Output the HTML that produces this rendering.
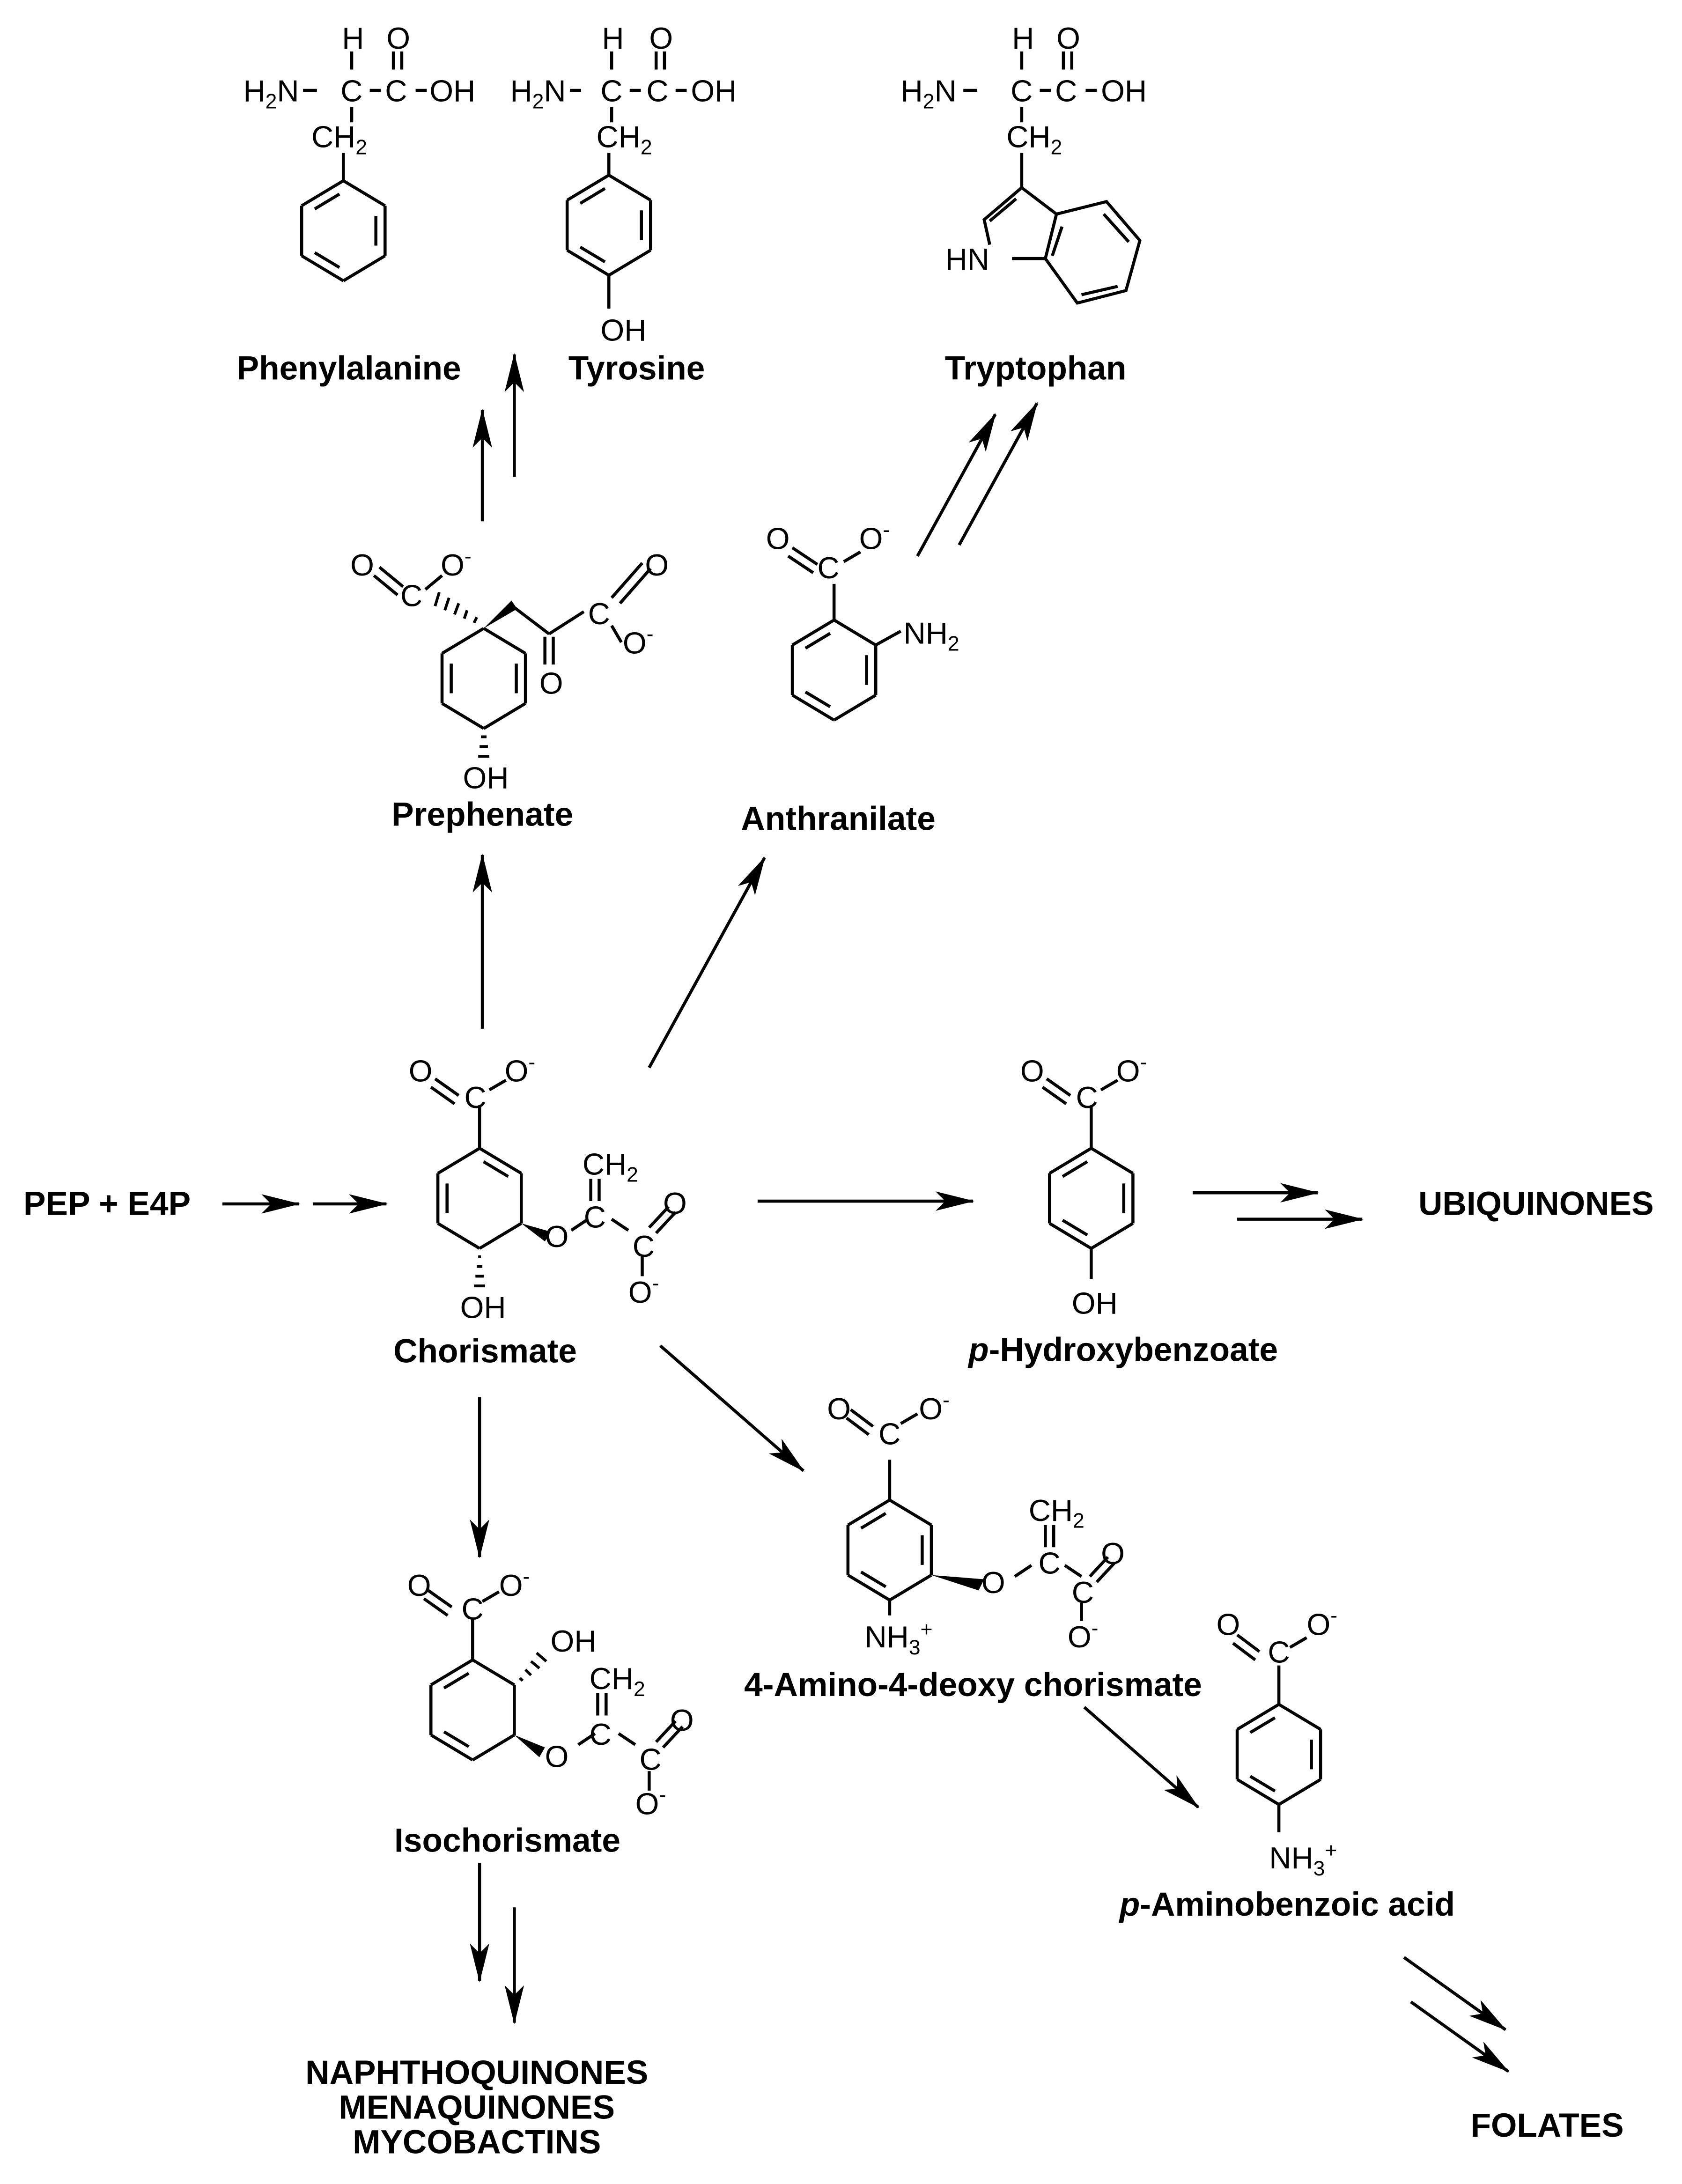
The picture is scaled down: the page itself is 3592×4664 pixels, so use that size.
<!DOCTYPE html>
<html><head><meta charset="utf-8"><style>
html,body{margin:0;padding:0;background:#fff}
svg{display:block}
text{font-family:"Liberation Sans",Arial,sans-serif;fill:#000}
.a{font-size:22px}
.s{font-size:15px}
.b{font-size:24px;font-weight:bold;text-anchor:middle}
</style></head><body>
<svg id="g" width="3592" height="4664" viewBox="0 0 1210 1571" preserveAspectRatio="none" xmlns="http://www.w3.org/2000/svg">
<defs><marker id="ar" viewBox="0 0 28 14" refX="27" refY="7" markerWidth="28" markerHeight="14" markerUnits="userSpaceOnUse" orient="auto"><path d="M0,0 L28,7 L0,14 L7,7 Z" fill="#000"/></marker></defs>
<g id="L" stroke="#000" stroke-width="2.2" fill="none" stroke-linecap="butt">
<line x1="347" y1="375" x2="347" y2="295" marker-end="url(#ar)"/>
<line x1="370" y1="343" x2="370" y2="255" marker-end="url(#ar)"/>
<line x1="660" y1="400" x2="716" y2="298" marker-end="url(#ar)"/>
<line x1="690" y1="392" x2="746" y2="290" marker-end="url(#ar)"/>
<line x1="347" y1="740" x2="347" y2="615" marker-end="url(#ar)"/>
<line x1="467" y1="768" x2="550" y2="617" marker-end="url(#ar)"/>
<line x1="160" y1="866" x2="215" y2="866" marker-end="url(#ar)"/>
<line x1="225" y1="866" x2="278" y2="866" marker-end="url(#ar)"/>
<line x1="545" y1="864" x2="700" y2="864" marker-end="url(#ar)"/>
<line x1="858" y1="858" x2="948" y2="858" marker-end="url(#ar)"/>
<line x1="890" y1="877" x2="980" y2="877" marker-end="url(#ar)"/>
<line x1="475" y1="968" x2="578" y2="1058" marker-end="url(#ar)"/>
<line x1="345" y1="1005" x2="345" y2="1120" marker-end="url(#ar)"/>
<line x1="345" y1="1340" x2="345" y2="1425" marker-end="url(#ar)"/>
<line x1="370" y1="1372" x2="370" y2="1455" marker-end="url(#ar)"/>
<line x1="780" y1="1228" x2="862" y2="1300" marker-end="url(#ar)"/>
<line x1="1010" y1="1408" x2="1083" y2="1460" marker-end="url(#ar)"/>
<line x1="1015" y1="1440" x2="1085" y2="1490" marker-end="url(#ar)"/>

<line x1="253" y1="37" x2="253" y2="50"/><line x1="283" y1="37" x2="283" y2="50"/><line x1="289" y1="37" x2="289" y2="50"/>
<line x1="218" y1="65" x2="228" y2="65"/><line x1="266" y1="65" x2="274" y2="65"/><line x1="299" y1="65" x2="307" y2="65"/>
<line x1="253" y1="77" x2="253" y2="88"/><line x1="247" y1="110" x2="247" y2="130"/>
<line x1="440" y1="37" x2="440" y2="50"/><line x1="472" y1="37" x2="472" y2="50"/><line x1="478" y1="37" x2="478" y2="50"/>
<line x1="410" y1="65" x2="418" y2="65"/><line x1="453" y1="65" x2="461" y2="65"/><line x1="486" y1="65" x2="494" y2="65"/>
<line x1="440" y1="77" x2="440" y2="88"/><line x1="438" y1="110" x2="438" y2="126"/><line x1="438" y1="198" x2="438" y2="222"/>
<line x1="735" y1="37" x2="735" y2="50"/><line x1="765" y1="37" x2="765" y2="50"/><line x1="771" y1="37" x2="771" y2="50"/>
<line x1="693" y1="65" x2="703" y2="65"/><line x1="748" y1="65" x2="756" y2="65"/><line x1="781" y1="65" x2="789" y2="65"/>
<line x1="735" y1="77" x2="735" y2="88"/><line x1="735" y1="110" x2="735" y2="135"/>
<polyline points="735,135 708,158 712,176"/><line x1="731" y1="143" x2="712" y2="159"/>
<line x1="728" y1="186" x2="752" y2="186"/>
<polyline points="735,135 760,154 796,145 820,173 810,209 775,218 752,186 760,154"/>
<line x1="764" y1="163" x2="757" y2="184"/><line x1="794" y1="154" x2="812" y2="174"/><line x1="804" y1="206" x2="778" y2="212"/>

<line x1="269" y1="414" x2="286" y2="428"/><line x1="273" y1="408" x2="290" y2="422"/>
<line x1="306" y1="424" x2="318" y2="414"/>
<line x1="370" y1="437" x2="395" y2="456"/><line x1="395" y1="456" x2="420" y2="440"/>
<line x1="392" y1="458" x2="392" y2="478"/><line x1="398" y1="458" x2="398" y2="478"/>
<line x1="440" y1="430" x2="462" y2="405"/><line x1="446" y1="434" x2="468" y2="409"/>
<line x1="440" y1="450" x2="447" y2="462"/>
<line x1="600" y1="446" x2="600" y2="420"/>
<line x1="570" y1="394" x2="588" y2="406"/><line x1="567" y1="400" x2="585" y2="412"/>
<line x1="607" y1="404" x2="619" y2="397"/>
<line x1="630" y1="464" x2="648" y2="454"/>
<line x1="345" y1="826" x2="345" y2="795"/>
<line x1="313" y1="776" x2="330" y2="788"/><line x1="310" y1="782" x2="327" y2="794"/>
<line x1="352" y1="784" x2="364" y2="777"/>
<line x1="411" y1="885" x2="423" y2="877"/>
<line x1="425" y1="848" x2="425" y2="864"/><line x1="431" y1="848" x2="431" y2="864"/>
<line x1="440" y1="877" x2="452" y2="885"/>
<line x1="467" y1="883" x2="481" y2="868"/><line x1="472" y1="887" x2="486" y2="872"/>
<line x1="462" y1="904" x2="462" y2="918"/>
<line x1="785" y1="826" x2="785" y2="795"/>
<line x1="753" y1="776" x2="770" y2="788"/><line x1="750" y1="782" x2="767" y2="794"/>
<line x1="792" y1="784" x2="804" y2="777"/>
<line x1="785" y1="898" x2="785" y2="920"/>
<line x1="640" y1="1079" x2="640" y2="1050"/>
<line x1="612" y1="1014" x2="628" y2="1026"/><line x1="609" y1="1020" x2="625" y2="1032"/>
<line x1="648" y1="1024" x2="660" y2="1017"/>
<line x1="640" y1="1151" x2="640" y2="1162"/>
<line x1="730" y1="1134" x2="742" y2="1126"/>
<line x1="752" y1="1097" x2="752" y2="1113"/><line x1="758" y1="1097" x2="758" y2="1113"/>
<line x1="766" y1="1126" x2="778" y2="1134"/>
<line x1="784" y1="1134" x2="797" y2="1120"/><line x1="789" y1="1138" x2="802" y2="1124"/>
<line x1="778" y1="1153" x2="778" y2="1166"/>
<line x1="340" y1="1194" x2="340" y2="1165"/>
<line x1="308" y1="1144" x2="325" y2="1156"/><line x1="305" y1="1150" x2="322" y2="1162"/>
<line x1="347" y1="1152" x2="359" y2="1145"/>
<line x1="416" y1="1255" x2="428" y2="1247"/>
<line x1="430" y1="1218" x2="430" y2="1234"/><line x1="436" y1="1218" x2="436" y2="1234"/>
<line x1="445" y1="1247" x2="457" y2="1255"/>
<line x1="472" y1="1253" x2="486" y2="1238"/><line x1="477" y1="1257" x2="491" y2="1242"/>
<line x1="467" y1="1274" x2="467" y2="1288"/>
<line x1="920" y1="1226" x2="920" y2="1198"/>
<line x1="890" y1="1176" x2="906" y2="1188"/><line x1="887" y1="1182" x2="903" y2="1194"/>
<line x1="928" y1="1185" x2="940" y2="1178"/>
<line x1="920" y1="1298" x2="920" y2="1318"/>
</g>
<g fill="#000">
<polygon points="348,452 368,432 372,438"/>
<polygon points="375,880 396,886 392,893"/>
<polygon points="670,1133 708,1136 704,1144"/>
<polygon points="370,1248 392,1257 388,1264"/>
</g>
<g stroke="#000" stroke-width="2">
<line x1="341" y1="448" x2="343" y2="444"/><line x1="334" y1="445" x2="336" y2="439"/><line x1="327" y1="442" x2="330" y2="434"/><line x1="320" y1="439" x2="323" y2="430"/><line x1="313" y1="436" x2="316" y2="426"/>
<line x1="346" y1="530" x2="350" y2="530"/><line x1="345" y1="537" x2="351" y2="537"/><line x1="344" y1="544" x2="352" y2="544"/>
<line x1="344" y1="904" x2="346" y2="904"/><line x1="343" y1="911" x2="347" y2="911"/><line x1="342" y1="918" x2="348" y2="918"/><line x1="341" y1="925" x2="349" y2="925"/>
<line x1="374" y1="1207" x2="376" y2="1209"/><line x1="378" y1="1201" x2="382" y2="1205"/><line x1="382" y1="1195" x2="388" y2="1200"/><line x1="386" y1="1189" x2="393" y2="1195"/>
</g>
<g class="a">
<text x="246" y="35">H</text><text x="278" y="35">O</text>
<text x="175" y="73">H<tspan class="s" dy="5">2</tspan><tspan dy="-5">N</tspan></text><text x="245" y="73">C</text><text x="277" y="73">C</text><text x="309" y="73">OH</text>
<text x="224" y="106">CH<tspan class="s" dy="5">2</tspan></text>
<text x="433" y="35">H</text><text x="467" y="35">O</text>
<text x="367" y="73">H<tspan class="s" dy="5">2</tspan><tspan dy="-5">N</tspan></text><text x="432" y="73">C</text><text x="465" y="73">C</text><text x="497" y="73">OH</text>
<text x="429" y="106">CH<tspan class="s" dy="5">2</tspan></text>
<text x="432" y="245">OH</text>
<text x="728" y="35">H</text><text x="760" y="35">O</text>
<text x="648" y="73">H<tspan class="s" dy="5">2</tspan><tspan dy="-5">N</tspan></text><text x="727" y="73">C</text><text x="759" y="73">C</text><text x="792" y="73">OH</text>
<text x="724" y="106">CH<tspan class="s" dy="5">2</tspan></text>
<text x="680" y="194">HN</text>
<text x="252" y="414">O</text><text x="288" y="436">C</text><text x="317" y="414">O<tspan class="s" dy="-9">-</tspan></text>
<text x="388" y="499">O</text><text x="423" y="449">C</text><text x="464" y="414">O</text><text x="448" y="470">O<tspan class="s" dy="-9">-</tspan></text>
<text x="333" y="567">OH</text>
<text x="551" y="395">O</text><text x="588" y="416">C</text><text x="618" y="395">O<tspan class="s" dy="-9">-</tspan></text>
<text x="650" y="463">NH<tspan class="s" dy="5">2</tspan></text>
<text x="294" y="778">O</text><text x="334" y="797">C</text><text x="363" y="778">O<tspan class="s" dy="-9">-</tspan></text>
<text x="419" y="845">CH<tspan class="s" dy="5">2</tspan></text>
<text x="392" y="897">O</text><text x="420" y="883">C</text><text x="455" y="904">C</text><text x="477" y="873">O</text><text x="452" y="937">O<tspan class="s" dy="-9">-</tspan></text>
<text x="331" y="948">OH</text>
<text x="734" y="778">O</text><text x="774" y="797">C</text><text x="803" y="778">O<tspan class="s" dy="-9">-</tspan></text>
<text x="771" y="945">OH</text>
<text x="595" y="1021">O</text><text x="632" y="1039">C</text><text x="661" y="1021">O<tspan class="s" dy="-9">-</tspan></text>
<text x="740" y="1094">CH<tspan class="s" dy="5">2</tspan></text>
<text x="706" y="1146">O</text><text x="747" y="1132">C</text><text x="771" y="1153">C</text><text x="792" y="1125">O</text><text x="768" y="1185">O<tspan class="s" dy="-9">-</tspan></text>
<text x="622" y="1185">NH<tspan class="s" dy="5">3</tspan><tspan class="s" dy="-13">+</tspan></text>
<text x="293" y="1148">O</text><text x="332" y="1165">C</text><text x="359" y="1148">O<tspan class="s" dy="-9">-</tspan></text>
<text x="396" y="1188">OH</text>
<text x="424" y="1215">CH<tspan class="s" dy="5">2</tspan></text>
<text x="392" y="1271">O</text><text x="424" y="1255">C</text><text x="460" y="1273">C</text><text x="482" y="1245">O</text><text x="457" y="1305">O<tspan class="s" dy="-9">-</tspan></text>
<text x="875" y="1176">O</text><text x="912" y="1196">C</text><text x="940" y="1176">O<tspan class="s" dy="-9">-</tspan></text>
<text x="913" y="1344">NH<tspan class="s" dy="5">3</tspan><tspan class="s" dy="-13">+</tspan></text>
</g>
<g>
<text class="b" x="251" y="273">Phenylalanine</text>
<text class="b" x="458" y="273">Tyrosine</text>
<text class="b" x="745" y="273">Tryptophan</text>
<text class="b" x="347" y="594">Prephenate</text>
<text class="b" x="603" y="597">Anthranilate</text>
<text class="b" x="77" y="874">PEP + E4P</text>
<text class="b" x="1105" y="874">UBIQUINONES</text>
<text class="b" x="349" y="980">Chorismate</text>
<text class="b" x="808" y="979"><tspan font-style="italic">p</tspan>-Hydroxybenzoate</text>
<text class="b" x="700" y="1220">4-Amino-4-deoxy chorismate</text>
<text class="b" x="365" y="1332">Isochorismate</text>
<text class="b" x="926" y="1378"><tspan font-style="italic">p</tspan>-Aminobenzoic acid</text>
<text class="b" x="343" y="1499">NAPHTHOQUINONES</text>
<text class="b" x="343" y="1524">MENAQUINONES</text>
<text class="b" x="343" y="1549">MYCOBACTINS</text>
<text class="b" x="1113" y="1537">FOLATES</text>
</g>
</svg>
<script>
(function(){
var L=document.getElementById('L');var NS='http://www.w3.org/2000/svg';
function ln(a,b){var e=document.createElementNS(NS,'line');e.setAttribute('x1',a[0]);e.setAttribute('y1',a[1]);e.setAttribute('x2',b[0]);e.setAttribute('y2',b[1]);L.appendChild(e);}
function ring(cx,cy,d,rx,ry){rx=rx||30;ry=ry||36;var h=ry/2;
var v=[[cx,cy-ry],[cx+rx,cy-h],[cx+rx,cy+h],[cx,cy+ry],[cx-rx,cy+h],[cx-rx,cy-h]];
for(var i=0;i<6;i++){ln(v[i],v[(i+1)%6]);}
d.forEach(function(i){var a=v[i],b=v[(i+1)%6];var f=0.78;
var a2=[cx+(a[0]-cx)*f,cy+(a[1]-cy)*f],b2=[cx+(b[0]-cx)*f,cy+(b[1]-cy)*f];
var t=0.12;ln([a2[0]+(b2[0]-a2[0])*t,a2[1]+(b2[1]-a2[1])*t],[b2[0]+(a2[0]-b2[0])*t,b2[1]+(a2[1]-b2[1])*t]);});}
ring(247,166,[1,3,5]);
ring(438,162,[1,3,5]);
ring(348,488,[1,4]);
ring(600,482,[1,3,5]);
ring(345,862,[0,4]);
ring(785,862,[1,3,5]);
ring(640,1115,[1,3,5]);
ring(340,1230,[3,5]);
ring(920,1262,[1,3,5]);
})();
</script>
</body></html>
